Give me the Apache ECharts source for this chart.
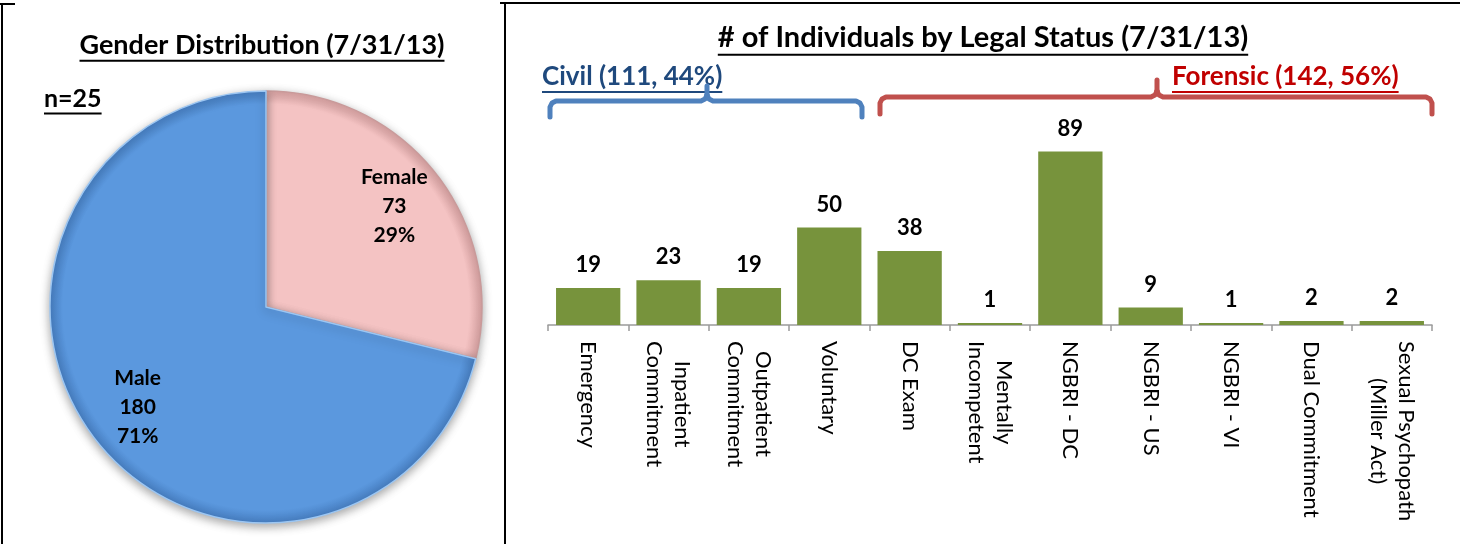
<!DOCTYPE html>
<html>
<head>
<meta charset="utf-8">
<script src="https://cdn.jsdelivr.net/npm/echarts@6/dist/echarts.min.js"></script>
<style>
  html, body { margin: 0; padding: 0; background: #fff; }
  #main { width: 1460px; height: 544px; }
</style>
</head>
<body>
<div id="main"></div>
<script>
const genderNames = ['Female', 'Male'];
const genderValues = [73, 180];
const genderPercents = ['29%', '71%'];

const statusCategories = [
  'Emergency', 'Inpatient\nCommitment', 'Outpatient\nCommitment', 'Voluntary', 'DC Exam',
  'Mentally\nIncompetent', 'NGBRI - DC', 'NGBRI - US', 'NGBRI - VI', 'Dual Commitment',
  'Sexual Psychopath\n(Miller Act)'
];
const statusValues = [19, 23, 19, 50, 38, 1, 89, 9, 1, 2, 2];

const civilLabel = 'Civil (111, 44%)';
const forensicLabel = 'Forensic (142, 56%)';

const FONT = 'Lato';
const PIE_CENTER = [266, 307];
const PIE_R = 216;
const chart = echarts.init(document.getElementById('main'));

// measure text so underlines can be drawn under graphic text
const measureCtx = document.createElement('canvas').getContext('2d');
function textWidth(str, size) {
  measureCtx.font = `bold ${size}px ${FONT}`;
  return measureCtx.measureText(str).width;
}
function underlined(str, x, y, size, color, align) {
  const w = textWidth(str, size);
  const x0 = align === 'center' ? x - w / 2 : x;
  const uy = y + size * 0.58;
  return [
    {
      type: 'text', x: x0, y: y,
      style: { text: str, fontFamily: FONT, fontWeight: 'bold', fontSize: size, fill: color, verticalAlign: 'middle' }
    },
    {
      type: 'line', shape: { x1: x0, y1: uy, x2: x0 + w, y2: uy },
      style: { stroke: color, lineWidth: 2 }
    }
  ];
}

// bracket: ends curl down, nub goes up (three polylines)
function bracket(x1, x2, y, nubX, nubTop, endBottom, color) {
  const st = { fill: null, stroke: color, lineWidth: 5, lineCap: 'round', lineJoin: 'round' };
  return [
    { type: 'polyline', shape: { points: [[x1, endBottom], [x1, y + 6], [x1 + 2, y + 2], [x1 + 6, y], [nubX - 6, y], [nubX - 2, y - 2], [nubX, y - 6]] }, style: st },
    { type: 'polyline', shape: { points: [[nubX, y - 6], [nubX + 2, y - 2], [nubX + 6, y], [x2 - 6, y], [x2 - 2, y + 2], [x2, y + 6], [x2, endBottom]] }, style: st },
    { type: 'line', shape: { x1: nubX, y1: y - 6, x2: nubX, y2: nubTop }, style: st }
  ];
}

// rim-darkening radial fill to fake the bevelled look
function bevel(inner, rim) {
  return {
    type: 'radial', x: PIE_CENTER[0], y: PIE_CENTER[1], r: PIE_R, global: true,
    colorStops: [{ offset: 0, color: inner }, { offset: 0.94, color: inner }, { offset: 1, color: rim }]
  };
}

const pieData = genderNames.map((n, i) => ({
  name: n,
  value: genderValues[i],
  itemStyle: {
    color: i === 0 ? bevel('#f4c3c3', '#d9a3a3') : bevel('#5b98de', '#477fc2'),
    borderColor: i === 0 ? '#c99a9a' : '#9cc6f2',
    borderWidth: 1.5
  }
}));

const option = {
  animation: false,
  backgroundColor: '#fff',
  textStyle: { fontFamily: FONT },
  grid: { left: 548, right: 28, top: 130, bottom: 219 },
  xAxis: {
    type: 'category',
    data: statusCategories,
    axisLine: { lineStyle: { color: '#9a9a9a', width: 1.5 } },
    axisTick: { show: true, length: 6, lineStyle: { color: '#9a9a9a', width: 1.5 } },
    axisLabel: {
      rotate: -90,
      margin: 16,
      interval: 0,
      formatter: v => v.split('\n').map(s => `{c|${s}}`).join('\n'),
      rich: {
        c: { align: 'center', fontFamily: FONT, fontSize: 22, color: '#000', lineHeight: 28 }
      }
    }
  },
  yAxis: {
    type: 'value', min: 0, max: 100, show: false,
    splitLine: { show: false }
  },
  series: [
    {
      type: 'bar',
      data: statusValues,
      barCategoryGap: '20%',
      itemStyle: { color: '#77933c' },
      label: {
        show: true, position: 'top', distance: 12,
        fontFamily: FONT, fontWeight: 'bold', fontSize: 22, color: '#000'
      }
    },
    {
      type: 'pie',
      center: PIE_CENTER,
      radius: PIE_R,
      startAngle: 90,
      clockwise: true,
      silent: true,
      data: pieData,
      label: { show: false },
      labelLine: { show: false },
      itemStyle: { shadowBlur: 10, shadowColor: 'rgba(0,0,0,0.35)', shadowOffsetY: 3 }
    },
    {
      // transparent ring used only to place the slice labels further out
      type: 'pie',
      center: PIE_CENTER,
      radius: [104, PIE_R],
      startAngle: 90,
      clockwise: true,
      silent: true,
      data: genderNames.map((n, i) => ({ name: n, value: genderValues[i] })),
      itemStyle: { color: 'rgba(0,0,0,0)' },
      labelLine: { show: false },
      label: {
        show: true,
        position: 'inside',
        formatter: p => `${p.name}\n${p.value}\n${genderPercents[p.dataIndex]}`,
        fontFamily: FONT, fontWeight: 'bold', fontSize: 21, color: '#000', lineHeight: 29
      }
    }
  ],
  graphic: [
    // panel frames
    { type: 'line', shape: { x1: 2, y1: 4, x2: 2, y2: 544 }, style: { stroke: '#000', lineWidth: 2 } },
    { type: 'line', shape: { x1: 0, y1: 4, x2: 15, y2: 4 }, style: { stroke: '#000', lineWidth: 2 } },
    { type: 'line', shape: { x1: 505, y1: 3, x2: 505, y2: 544 }, style: { stroke: '#000', lineWidth: 2 } },
    { type: 'line', shape: { x1: 500, y1: 3, x2: 1460, y2: 3 }, style: { stroke: '#000', lineWidth: 2 } },
    ...underlined('Gender Distribution (7/31/13)', 262, 45, 27, '#000', 'center'),
    ...underlined('n=25', 44, 99, 25, '#000', 'left'),
    ...underlined('# of Individuals by Legal Status (7/31/13)', 983, 38, 29, '#000', 'center'),
    ...underlined(civilLabel, 542, 77, 26, '#1f497d', 'left'),
    ...underlined(forensicLabel, 1172, 77, 26, '#c00000', 'left'),
    ...bracket(550, 862, 101, 707, 86, 117, '#4f81bd'),
    ...bracket(880, 1432, 97, 1157, 80, 114, '#c0504d')
  ]
};

chart.setOption(option);
</script>
</body>
</html>
